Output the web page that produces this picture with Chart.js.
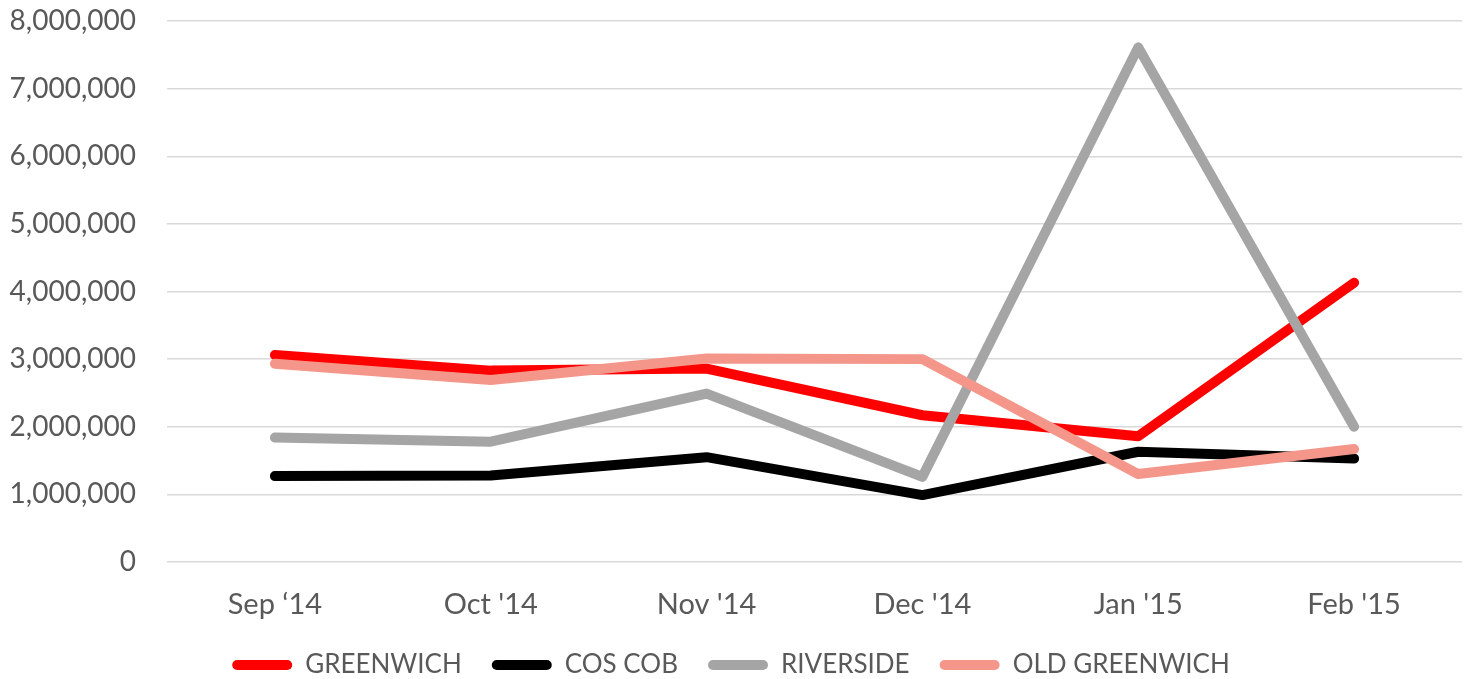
<!DOCTYPE html>
<html>
<head>
<meta charset="utf-8">
<script src="https://cdn.jsdelivr.net/npm/chart.js@4.4.1/dist/chart.umd.min.js"></script>
<style>
  html, body { margin: 0; padding: 0; background: #ffffff; overflow: hidden; }
  #wrap { width: 1468px; height: 679px; overflow: hidden; }
</style>
</head>
<body>
<div id="wrap"><canvas id="c" width="1468" height="688"></canvas></div>
<script>
const categories = ["Sep \u201814", "Oct '14", "Nov '14", "Dec '14", "Jan '15", "Feb '15"];
const greenwich    = [3060000, 2830000, 2860000, 2170000, 1860000, 4130000];
const cosCob       = [1270000, 1280000, 1550000, 990000, 1630000, 1530000];
const riverside    = [1840000, 1780000, 2490000, 1260000, 7610000, 2000000];
const oldGreenwich = [2930000, 2690000, 3010000, 3000000, 1300000, 1670000];
const seriesNames  = ["GREENWICH", "COS COB", "RIVERSIDE", "OLD GREENWICH"];
const yTicks = [0, 1000000, 2000000, 3000000, 4000000, 5000000, 6000000, 7000000, 8000000];

const colors = ["#FF0000", "#000000", "#A5A5A5", "#F4978A"];
const seriesData = [greenwich, cosCob, riverside, oldGreenwich];
const FONT = "Lato, 'Open Sans', sans-serif";
const TXT = "#595959";

const datasets = seriesData.map((d, i) => ({
  label: seriesNames[i],
  data: d,
  borderColor: colors[i],
  backgroundColor: colors[i],
  borderWidth: 10,
  borderCapStyle: 'round',
  borderJoinStyle: 'round',
  pointRadius: 0,
  pointHoverRadius: 0,
  tension: 0,
  fill: false,
  order: seriesData.length - i
}));

new Chart(document.getElementById('c'), {
  type: 'line',
  data: { labels: categories, datasets },
  options: {
    responsive: false,
    animation: false,
    devicePixelRatio: 1,
    layout: { padding: { top: 21, right: 6, left: 0, bottom: 0 } },
    plugins: {
      tooltip: { enabled: false },
      legend: {
        position: 'bottom',
        labels: {
          boxWidth: 60,
          boxHeight: 10,
          useBorderRadius: true,
          borderRadius: 5,
          padding: 30,
          color: TXT,
          font: { family: FONT, size: 26, lineHeight: 1 },
          sort: (a, b) => a.datasetIndex - b.datasetIndex,
          generateLabels: (chart) => {
            const items = Chart.defaults.plugins.legend.labels.generateLabels(chart);
            items.forEach(it => { it.lineWidth = 0; it.strokeStyle = it.fillStyle; });
            return items;
          }
        }
      }
    },
    scales: {
      x: {
        offset: true,
        grid: { display: false, drawTicks: false },
        border: { display: false },
        ticks: { color: TXT, font: { family: FONT, size: 29 }, padding: 25, maxRotation: 0 },
        afterFit: (s) => { s.height = 60; s.paddingLeft = 0; s.paddingRight = 0; }
      },
      y: {
        min: 0,
        max: 8000000,
        afterBuildTicks: (s) => { s.ticks = yTicks.map(v => ({ value: v })); },
        grid: { color: '#D9D9D9', lineWidth: 1.5, drawTicks: false },
        border: { display: false },
        ticks: {
          color: TXT,
          font: { family: FONT, size: 28 },
          padding: 31,
          callback: (v) => Number(v).toLocaleString('en-US')
        },
        afterFit: (s) => { s.width = 167; s.paddingTop = 0; s.paddingBottom = 0; }
      }
    }
  }
});
</script>
</body>
</html>
